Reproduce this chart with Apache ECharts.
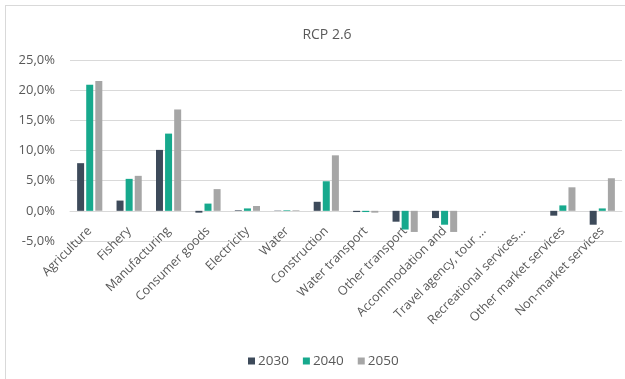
<!DOCTYPE html>
<html>
<head>
<meta charset="utf-8">
<script src="https://cdn.jsdelivr.net/npm/echarts@6/dist/echarts.min.js"></script>
<style>
  html, body { margin: 0; padding: 0; background: #ffffff; }
  #frame { position: absolute; left: 5px; top: 5px; width: 640px; height: 400px; border: 1px solid #d9d9d9; box-sizing: border-box; }
  #chart { position: absolute; left: 0; top: 0; width: 625px; height: 379px; }
</style>
</head>
<body>
<div id="frame"></div>
<div id="chart"></div>
<script>
// Sectors on the category axis
const sectors = [
  'Agriculture', 'Fishery', 'Manufacturing', 'Consumer goods', 'Electricity',
  'Water', 'Construction', 'Water transport', 'Other transport',
  'Accommodation and', 'Travel agency, tour ...', 'Recreational services...',
  'Other market services', 'Non-market services'
];

// Percentage change by sector (%)
const y2030 = [7.9, 1.7, 10.1, -0.3, 0.1, 0.05, 1.5, -0.2, -1.8, -1.2, 0.0, 0.0, -0.8, -2.3];
const y2040 = [20.9, 5.3, 12.8, 1.2, 0.4, 0.1, 4.9, -0.2, -3.1, -2.3, 0.0, 0.0, 0.9, 0.4];
const y2050 = [21.5, 5.8, 16.8, 3.6, 0.8, 0.1, 9.2, -0.3, -3.5, -3.5, 0.0, 0.0, 3.9, 5.4];

const yTicks = { min: -5, max: 25, step: 5 };

const chart = echarts.init(document.getElementById('chart'));
const fontFamily = '"Open Sans", "Noto Sans", sans-serif';

function barSeries(name, data, color) {
  return {
    name: name,
    type: 'bar',
    data: data,
    barWidth: 7,
    barGap: '30%',
    itemStyle: { color: color },
    animation: false
  };
}

chart.setOption({
  animation: false,
  title: {
    text: 'RCP 2.6',
    left: 322,
    top: 23,
    textAlign: 'center',
    textStyle: { fontFamily: fontFamily, fontSize: 14, fontWeight: 'normal', color: '#595959' }
  },
  legend: {
    data: ['2030', '2040', '2050'],
    left: 243,
    top: 349,
    itemWidth: 7,
    itemHeight: 7,
    itemGap: 14,
    icon: 'rect',
    textStyle: { fontFamily: fontFamily, fontSize: 13.5, color: '#595959', padding: [0, 0, 0, -2] }
  },
  grid: { left: 70, right: 3, top: 60, bottom: 138, containLabel: false },
  xAxis: {
    type: 'category',
    data: sectors,
    axisLine: { onZero: true, lineStyle: { color: '#d9d9d9' } },
    axisTick: { show: false },
    axisLabel: {
      interval: 0,
      rotate: 45,
      margin: -12,
      fontFamily: fontFamily,
      fontSize: 12.5,
      color: '#595959'
    }
  },
  yAxis: {
    type: 'value',
    min: yTicks.min,
    max: yTicks.max,
    interval: yTicks.step,
    axisLine: { show: false },
    axisTick: { show: false },
    splitLine: { lineStyle: { color: '#d9d9d9' } },
    axisLabel: {
      margin: 15,
      fontFamily: fontFamily,
      fontSize: 13,
      color: '#595959',
      formatter: v => v.toFixed(1).replace('.', ',') + '%'
    }
  },
  series: [
    barSeries('2030', y2030, '#3d4a5a'),
    barSeries('2040', y2040, '#17a98d'),
    barSeries('2050', y2050, '#a6a6a6')
  ]
});
</script>
</body>
</html>
